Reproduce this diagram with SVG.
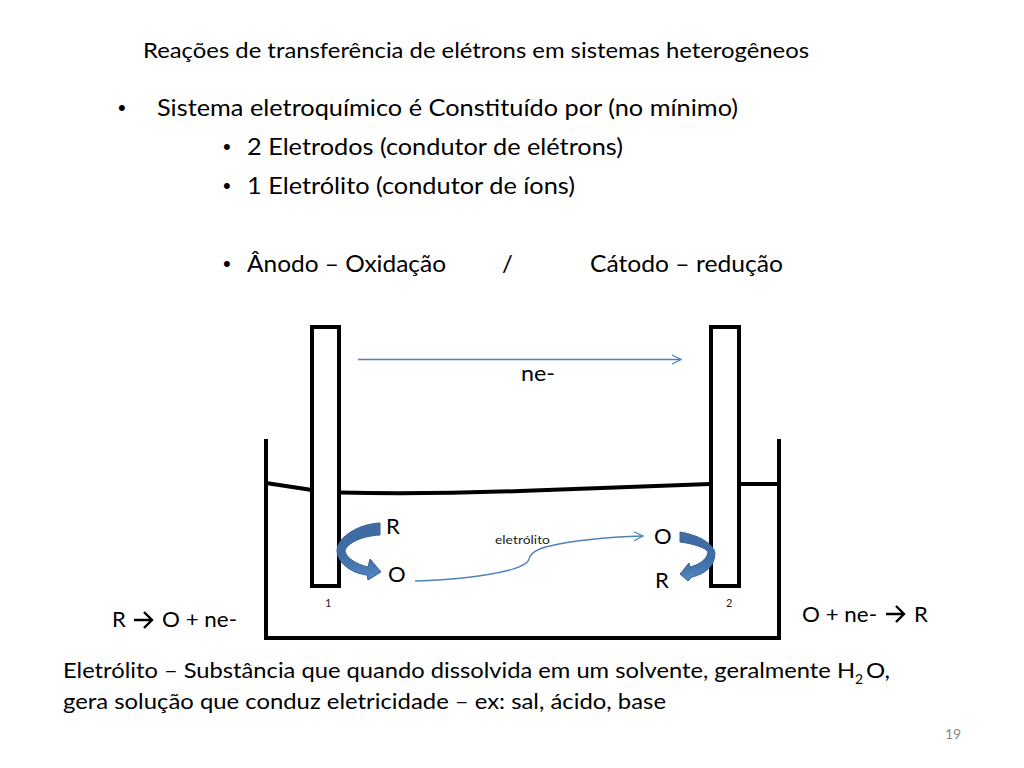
<svg xmlns="http://www.w3.org/2000/svg" width="1024" height="768" viewBox="0 0 1024 768">
<style>
text{font-family:Lato,"Open Sans",sans-serif;fill:#000}
.t{font-size:24px}
.s{font-size:22px}
.d{font-family:"Liberation Sans",sans-serif;font-size:22px}
.e{fill:#fff;stroke:#000;stroke-width:4}
.k{fill:none;stroke:#000;stroke-width:4}
.b{fill:none;stroke:#4f81bd;stroke-width:1.3}
.c{stroke:#3a6494;stroke-width:1}
.m{font-size:11px;fill:#222}
.w{fill:none;stroke:#000;stroke-width:2.400}
</style>
<defs>
<marker id="a" markerUnits="userSpaceOnUse" markerWidth="12" markerHeight="12" refX="10" refY="6" orient="auto"><path d="M1 1.500L10 6L1 10.500" fill="none" stroke="#4f81bd" stroke-width="1.300"/></marker>
<linearGradient id="g1" x1="0" y1="0" x2="0" y2="1"><stop offset="0" stop-color="#3f6ca3"/><stop offset=".55" stop-color="#3f6ca3"/><stop offset="1" stop-color="#5586c2"/></linearGradient>
</defs>
<rect width="1024" height="768" fill="#fff"/>
<g id="textos">
<text class="s" x="143" y="58" textLength="666" lengthAdjust="spacingAndGlyphs">Reações de transferência de elétrons em sistemas heterogêneos</text>
<text class="d" x="118" y="115">•</text>
<text class="t" x="157" y="116" textLength="581" lengthAdjust="spacingAndGlyphs">Sistema eletroquímico é Constituído por (no mínimo)</text>
<text class="d" x="223" y="154">•</text>
<text class="t" x="247" y="155" textLength="376" lengthAdjust="spacingAndGlyphs">2 Eletrodos (condutor de elétrons)</text>
<text class="d" x="223" y="193">•</text>
<text class="t" x="247" y="194" textLength="328" lengthAdjust="spacingAndGlyphs">1 Eletrólito (condutor de íons)</text>
<text class="d" x="223" y="271">•</text>
<text class="t" x="247" y="272" textLength="199" lengthAdjust="spacingAndGlyphs">Ânodo – Oxidação</text>
<text class="t" x="502" y="272">/</text>
<text class="t" x="590" y="272" textLength="193" lengthAdjust="spacingAndGlyphs">Cátodo – redução</text>
<text class="s" x="521" y="381" textLength="34" lengthAdjust="spacingAndGlyphs">ne-</text>
<text class="s" x="112" y="627">R</text>
<text class="s" x="162" y="627" textLength="75" lengthAdjust="spacingAndGlyphs">O + ne-</text>
<text class="s" x="802" y="622" textLength="75" lengthAdjust="spacingAndGlyphs">O + ne-</text>
<text class="s" x="914" y="622">R</text>
<text class="s" x="63" y="678" textLength="792" lengthAdjust="spacingAndGlyphs">Eletrólito – Substância que quando dissolvida em um solvente, geralmente H</text>
<text font-size="14" x="855" y="684">2</text>
<text class="s" x="866" y="678" textLength="24" lengthAdjust="spacingAndGlyphs">O,</text>
<text class="s" x="63" y="709" textLength="603" lengthAdjust="spacingAndGlyphs">gera solução que conduz eletricidade – ex: sal, ácido, base</text>
<text x="945" y="739" font-size="14" style="fill:#8a8a8a">19</text>
</g>
<g id="cuba">
<path class="k" d="M266 439V638H779V439"/>
<path class="k" d="M266 483L312 490M340 492.500C400 494 460 493 520 491S640 486 710 484M738 484H779"/>
</g>
<g id="eletrodo-1">
<rect class="e" x="312" y="327" width="27" height="259"/>
<text class="m" x="325" y="607">1</text>
</g>
<g id="eletrodo-2">
<rect class="e" x="711" y="327" width="28" height="259"/>
<text class="m" x="726" y="607">2</text>
</g>
<g id="rotulos">
<text class="s" x="386" y="534">R</text>
<text class="s" x="388" y="582">O</text>
<text class="s" x="654" y="544">O</text>
<text class="s" x="655" y="588">R</text>
<text x="495" y="544" font-size="11.500" style="fill:#222" textLength="55" lengthAdjust="spacingAndGlyphs">eletrólito</text>
</g>
<g id="conectores">
<path class="b" d="M358 359.500H681" marker-end="url(#a)"/>
<path class="b" d="M415 581C455 580 490 575 510 570C520 567 528 564 529 559C531 552 540 548 550 546C575 540 610 537 643 536" marker-end="url(#a)"/>
<path class="c" fill="url(#g1)" d="M380 523V535C362 536 347 543 345 551C346 557 355 564 368 567L370 559L381 572L368 580L367 575C350 573 337 562 337 550C338 537 358 524 380 523Z"/>
<path class="c" fill="url(#g1)" d="M680 532V542C695 544 706 548 708 552C707 560 698 565 690 567L689 563L680 574L688 581L692 577C705 574 715 566 715 553C713 543 698 535 680 532Z"/>
<path class="w" d="M134 620H151M144 612L152 620L144 628"/>
<path class="w" d="M886 614H903M896 606L904 614L896 622"/>
</g>
</svg>
